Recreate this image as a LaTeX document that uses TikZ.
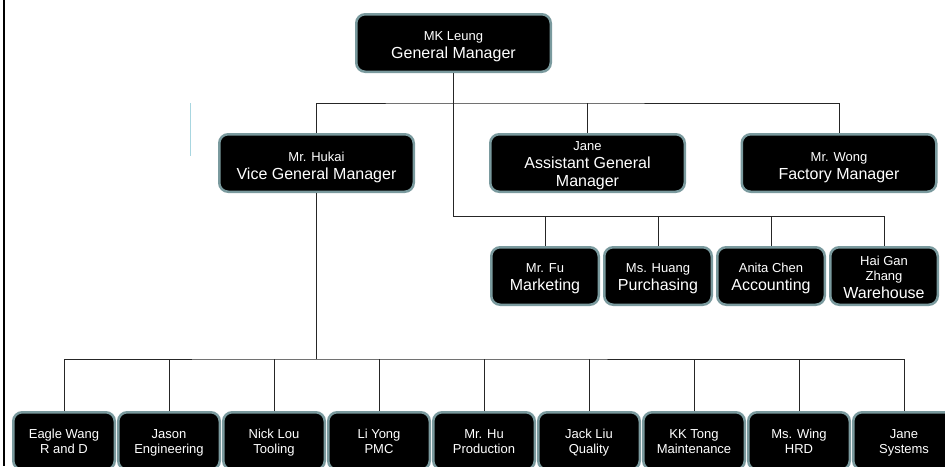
\documentclass[tikz,border=0pt]{standalone}
\usepackage{fontspec}
\setmainfont{Liberation Sans}
\usetikzlibrary{positioning}
\definecolor{boxrim}{RGB}{122,154,158}
\definecolor{guidecyan}{RGB}{168,214,224}
\newcommand{\staffname}[1]{{\fontsize{13}{15}\selectfont #1}}

\begin{document}
\begin{tikzpicture}[x=1pt,y=-1pt,
  card/.style={rectangle,rounded corners=9pt,draw=boxrim,line width=2.5pt,fill=black,text=white,minimum width=194.5pt,minimum height=57.5pt,align=center,inner xsep=2pt,inner ysep=0pt,font=\fontsize{16}{18}\selectfont},
  pad/.style 2 args={execute at begin node=\rule{0pt}{#1},execute at end node=\rule[-#2]{0pt}{0pt}},
  head/.style={card,pad={38pt}{5pt}},
  staff/.style={card,pad={34pt}{5pt},minimum width=107.5pt},
  dept/.style={card,pad={30pt}{5pt},minimum width=101.5pt,font=\fontsize{13}{15}\selectfont},
  wire/.style={draw=black!85,line width=0.8pt}]
  \useasboundingbox (0,0) rectangle (945,466);
  \clip (0,0) rectangle (945,466);
  \draw[black,line width=2pt] (4,0) -- (4,466);
  \draw[guidecyan,line width=1.5pt] (190.5,103) -- (190.5,156);
  % managers
  \node[card,pad={35pt}{5pt}] (gm) at (453.5,43) {\staffname{MK Leung}\\General Manager};
  \node[head] (vgm) at (316.5,163) {\staffname{Mr. Hukai}\\Vice General Manager};
  \node[card,pad={50pt}{0pt}] (agm) at (587.5,163) {\staffname{Jane}\\Assistant General\\Manager};
  \node[head] (fm) at (839,163) {\staffname{Mr. Wong}\\Factory Manager};
  % staff under the general manager
  \node[staff] (mkt) at (545,276) {\staffname{Mr. Fu}\\Marketing};
  \node[staff,right=3pt of mkt] (pur) {\staffname{Ms. Huang}\\Purchasing};
  \node[staff,right=3pt of pur] (acc) {\staffname{Anita Chen}\\Accounting};
  \node[staff,pad={50pt}{0pt},right=3pt of acc] (wh) {\staffname{Hai Gan}\\[-3pt]\staffname{Zhang}\\Warehouse};
  % departments under the vice general manager
  \node[dept] (rnd) at (64,441) {Eagle Wang\\R and D};
  \node[dept,right=1pt of rnd] (eng) {Jason\\Engineering};
  \node[dept,right=1pt of eng] (tool) {Nick Lou\\Tooling};
  \node[dept,right=1pt of tool] (pmc) {Li Yong\\PMC};
  \node[dept,right=1pt of pmc] (prod) {Mr. Hu\\Production};
  \node[dept,right=1pt of prod] (qa) {Jack Liu\\Quality};
  \node[dept,right=1pt of qa] (mnt) {KK Tong\\Maintenance};
  \node[dept,right=1pt of mnt] (hrd) {Ms. Wing\\HRD};
  \node[dept,right=1pt of hrd] (sys) {Jane\\Systems};
  % connectors
  \coordinate (topbus) at (453.5,103);
  \coordinate (staffbus) at (453.5,216);
  \coordinate (deptbus) at (316.5,359);
  \draw[wire] (gm.south) -- (topbus);
  \draw[wire] (vgm.north) |- (topbus) -| (fm.north);
  \draw[wire] (agm.north) -- (agm.north |- topbus);
  \draw[wire] (topbus) -- (staffbus) -| (wh.north);
  \draw[wire] (mkt.north) -- (mkt.north |- staffbus);
  \draw[wire] (pur.north) -- (pur.north |- staffbus);
  \draw[wire] (acc.north) -- (acc.north |- staffbus);
  \draw[wire] (vgm.south) -- (deptbus);
  \draw[wire] (rnd.north) |- (deptbus) -| (sys.north);
  \draw[wire] (eng.north) -- (eng.north |- deptbus);
  \draw[wire] (tool.north) -- (tool.north |- deptbus);
  \draw[wire] (pmc.north) -- (pmc.north |- deptbus);
  \draw[wire] (prod.north) -- (prod.north |- deptbus);
  \draw[wire] (qa.north) -- (qa.north |- deptbus);
  \draw[wire] (mnt.north) -- (mnt.north |- deptbus);
  \draw[wire] (hrd.north) -- (hrd.north |- deptbus);
\end{tikzpicture}
\end{document}
